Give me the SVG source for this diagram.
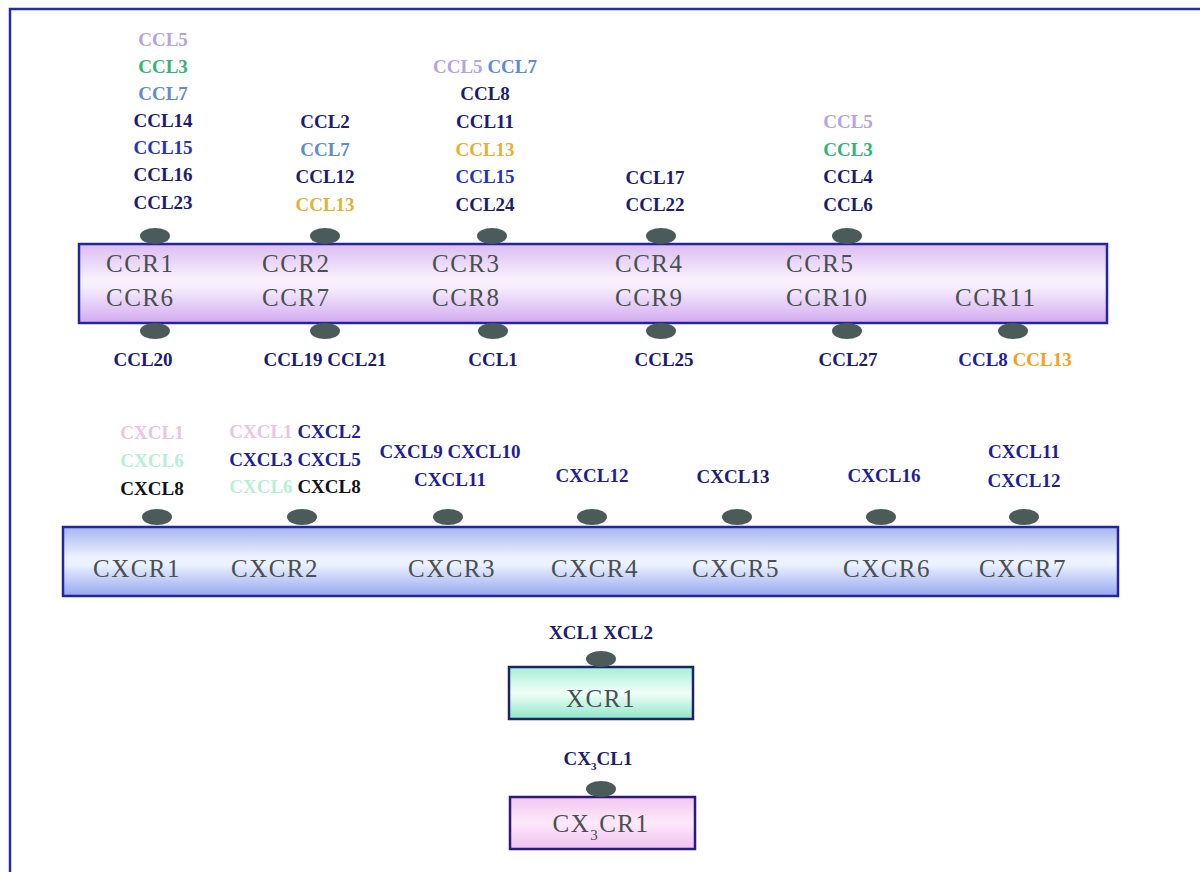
<svg xmlns="http://www.w3.org/2000/svg" width="1200" height="872" viewBox="0 0 1200 872">
<defs>
<linearGradient id="gCCR" x1="0" y1="0" x2="0" y2="1">
<stop offset="0" stop-color="#dcbcf2"/><stop offset="0.45" stop-color="#f8f1fd"/><stop offset="0.55" stop-color="#f6eefc"/><stop offset="1" stop-color="#d2aaf0"/>
</linearGradient>
<linearGradient id="gCXCR" x1="0" y1="0" x2="0" y2="1">
<stop offset="0" stop-color="#a6b4ee"/><stop offset="0.45" stop-color="#eef4ff"/><stop offset="0.55" stop-color="#eaf1ff"/><stop offset="1" stop-color="#96a6ee"/>
</linearGradient>
<linearGradient id="gXCR" x1="0" y1="0" x2="0" y2="1">
<stop offset="0" stop-color="#a4eed6"/><stop offset="0.5" stop-color="#f2fff9"/><stop offset="1" stop-color="#8ee6c6"/>
</linearGradient>
<linearGradient id="gCX3CR" x1="0" y1="0" x2="0" y2="1">
<stop offset="0" stop-color="#f2c6f0"/><stop offset="0.5" stop-color="#fde9fb"/><stop offset="1" stop-color="#f0c0ee"/>
</linearGradient>
</defs>
<style>
.frame{stroke:#2a2aa6;stroke-width:2.5;fill:none}
.box{stroke:#2424a0;stroke-width:2.5}
.site{fill:#4b5b5a}
.rec{font-family:"Liberation Serif",serif;font-size:25px;fill:#4a4f52;letter-spacing:1.5px}
.lig{font-family:"Liberation Serif",serif;font-size:19px;font-weight:bold;text-anchor:middle}
.nv{fill:#1c1c70}
.bl{fill:#2232c4}
.li{fill:#b4a4e2}
.gr{fill:#34b474}
.sb{fill:#5c8cd2}
.au{fill:#e2b232}
.or{fill:#f2a21e}
.pk{fill:#e8c4e8}
.mt{fill:#b6f0d6}
.bk{fill:#121216}
.db{fill:#1e1e9a}
</style>
<rect width="1200" height="872" fill="#ffffff"/>
<path class="frame" d="M10,872 V9 H1200"/>

<g id="connectors"></g>

<g id="CCR-family">
<rect class="box" x="79" y="244" width="1028" height="79" fill="url(#gCCR)"/>
<g class="site">
<ellipse cx="155" cy="236" rx="15" ry="8"/><ellipse cx="325" cy="236" rx="15" ry="8"/><ellipse cx="492" cy="236" rx="15" ry="8"/><ellipse cx="661" cy="236" rx="15" ry="8"/><ellipse cx="847" cy="236" rx="15" ry="8"/>
<ellipse cx="155" cy="331" rx="15" ry="8"/><ellipse cx="325" cy="331" rx="15" ry="8"/><ellipse cx="493" cy="331" rx="15" ry="8"/><ellipse cx="661" cy="331" rx="15" ry="8"/><ellipse cx="847" cy="331" rx="15" ry="8"/><ellipse cx="1013" cy="331" rx="15" ry="8"/>
</g>
<g class="rec">
<text x="106" y="272">CCR1</text><text x="106" y="306">CCR6</text>
<text x="262" y="272">CCR2</text><text x="262" y="306">CCR7</text>
<text x="432" y="272">CCR3</text><text x="432" y="306">CCR8</text>
<text x="615" y="272">CCR4</text><text x="615" y="306">CCR9</text>
<text x="786" y="272">CCR5</text><text x="786" y="306">CCR10</text>
<text x="955" y="306">CCR11</text>
</g>
</g>

<g id="CCR1-ligands" class="lig">
<text x="163" y="46" class="li">CCL5</text>
<text x="163" y="73" class="gr">CCL3</text>
<text x="163" y="100" class="sb">CCL7</text>
<text x="163" y="127" class="nv">CCL14</text>
<text x="163" y="154" class="bl">CCL15</text>
<text x="163" y="181" class="nv">CCL16</text>
<text x="163" y="209" class="nv">CCL23</text>
<text x="143" y="366" class="nv">CCL20</text>
</g>
<g id="CCR2-ligands" class="lig">
<text x="325" y="128" class="nv">CCL2</text>
<text x="325" y="156" class="sb">CCL7</text>
<text x="325" y="183" class="nv">CCL12</text>
<text x="325" y="211" class="au">CCL13</text>
<text x="325" y="366"><tspan class="nv">CCL19 CCL21</tspan></text>
</g>
<g id="CCR3-ligands" class="lig">
<text x="485" y="73"><tspan class="li">CCL5</tspan> <tspan class="sb">CCL7</tspan></text>
<text x="485" y="100" class="nv">CCL8</text>
<text x="485" y="128" class="nv">CCL11</text>
<text x="485" y="156" class="au">CCL13</text>
<text x="485" y="183" class="bl">CCL15</text>
<text x="485" y="211" class="nv">CCL24</text>
<text x="493" y="366" class="nv">CCL1</text>
</g>
<g id="CCR4-ligands" class="lig">
<text x="655" y="184" class="nv">CCL17</text>
<text x="655" y="211" class="nv">CCL22</text>
<text x="664" y="366" class="nv">CCL25</text>
</g>
<g id="CCR5-ligands" class="lig">
<text x="848" y="128" class="li">CCL5</text>
<text x="848" y="156" class="gr">CCL3</text>
<text x="848" y="183" class="nv">CCL4</text>
<text x="848" y="211" class="nv">CCL6</text>
<text x="848" y="366" class="nv">CCL27</text>
</g>
<g id="CCR11-ligands" class="lig">
<text x="1015" y="366"><tspan class="db">CCL8</tspan> <tspan class="or">CCL13</tspan></text>
</g>

<g id="CXCR-family">
<rect class="box" x="63" y="527" width="1055" height="69" fill="url(#gCXCR)"/>
<g class="site">
<ellipse cx="157" cy="517" rx="15" ry="8"/><ellipse cx="302" cy="517" rx="15" ry="8"/><ellipse cx="448" cy="517" rx="15" ry="8"/><ellipse cx="592" cy="517" rx="15" ry="8"/><ellipse cx="737" cy="517" rx="15" ry="8"/><ellipse cx="881" cy="517" rx="15" ry="8"/><ellipse cx="1024" cy="517" rx="15" ry="8"/>
</g>
<g class="rec" text-anchor="middle">
<text x="137" y="577">CXCR1</text>
<text x="275" y="577">CXCR2</text>
<text x="452" y="577">CXCR3</text>
<text x="595" y="577">CXCR4</text>
<text x="736" y="577">CXCR5</text>
<text x="887" y="577">CXCR6</text>
<text x="1023" y="577">CXCR7</text>
</g>
</g>

<g id="CXCR1-ligands" class="lig">
<text x="152" y="439" class="pk">CXCL1</text>
<text x="152" y="467" class="mt">CXCL6</text>
<text x="152" y="495" class="bk">CXCL8</text>
</g>
<g id="CXCR2-ligands" class="lig">
<text x="295" y="438"><tspan class="pk">CXCL1</tspan> <tspan class="db">CXCL2</tspan></text>
<text x="295" y="466"><tspan class="db">CXCL3</tspan> <tspan class="db">CXCL5</tspan></text>
<text x="295" y="493"><tspan class="mt">CXCL6</tspan> <tspan class="bk">CXCL8</tspan></text>
</g>
<g id="CXCR3-ligands" class="lig">
<text x="450" y="458" class="db">CXCL9 CXCL10</text>
<text x="450" y="486" class="db">CXCL11</text>
</g>
<g id="CXCR4-ligands" class="lig"><text x="592" y="482" class="db">CXCL12</text></g>
<g id="CXCR5-ligands" class="lig"><text x="733" y="483" class="nv">CXCL13</text></g>
<g id="CXCR6-ligands" class="lig"><text x="884" y="482" class="db">CXCL16</text></g>
<g id="CXCR7-ligands" class="lig">
<text x="1024" y="458" class="db">CXCL11</text>
<text x="1024" y="487" class="db">CXCL12</text>
</g>

<g id="XCR1">
<rect x="509" y="667" width="184" height="52" fill="url(#gXCR)" stroke="#1c2468" stroke-width="2.5"/>
<ellipse class="site" cx="601" cy="659" rx="15" ry="8"/>
<text class="rec" x="601" y="707" text-anchor="middle">XCR1</text>
<text class="lig nv" x="601" y="639">XCL1 XCL2</text>
</g>

<g id="CX3CR1">
<rect x="510" y="797" width="185" height="52" fill="url(#gCX3CR)" stroke="#2a1a7a" stroke-width="2.5"/>
<ellipse class="site" cx="601" cy="789" rx="15" ry="8"/>
<text class="rec" x="601" y="832" text-anchor="middle">CX<tspan font-size="15" dy="8">3</tspan><tspan dy="-8">CR1</tspan></text>
<text class="lig nv" x="598" y="765">CX<tspan font-size="11" dy="5">3</tspan><tspan dy="-5">CL1</tspan></text>
</g>
</svg>
